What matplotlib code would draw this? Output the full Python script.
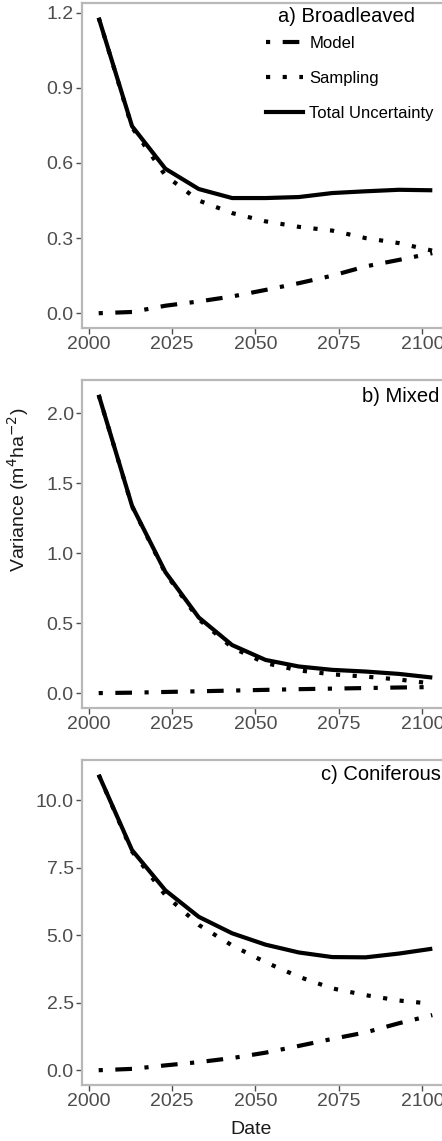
import numpy as np
import matplotlib.pyplot as plt
from matplotlib.lines import Line2D

plt.rcParams['font.family'] = ['Liberation Sans', 'DejaVu Sans']

years = [2003, 2013, 2023, 2033, 2043, 2053, 2063, 2073, 2083, 2093, 2103]

# a) Broadleaved
broad_total = [1.18, 0.747, 0.577, 0.496, 0.46, 0.46, 0.464, 0.48, 0.487, 0.493, 0.491]
broad_model = [0.0, 0.005, 0.03, 0.047, 0.067, 0.093, 0.12, 0.15, 0.187, 0.213, 0.24]
broad_sampling = [1.18, 0.742, 0.55, 0.45, 0.40, 0.367, 0.345, 0.33, 0.30, 0.28, 0.25]

# b) Mixed
mixed_total = [2.13, 1.337, 0.864, 0.54, 0.343, 0.237, 0.19, 0.166, 0.154, 0.137, 0.111]
mixed_model = [0.0, 0.003, 0.008, 0.013, 0.018, 0.023, 0.028, 0.032, 0.036, 0.04, 0.043]
mixed_sampling = [2.13, 1.334, 0.856, 0.527, 0.325, 0.214, 0.162, 0.134, 0.118, 0.097, 0.068]

# c) Coniferous
conif_total = [10.94, 8.15, 6.66, 5.68, 5.07, 4.65, 4.36, 4.19, 4.18, 4.32, 4.5]
conif_model = [0.0, 0.05, 0.18, 0.3, 0.45, 0.65, 0.9, 1.16, 1.4, 1.74, 2.04]
conif_sampling = [10.94, 8.1, 6.48, 5.38, 4.62, 4.0, 3.46, 3.03, 2.78, 2.58, 2.46]

panels = [
    ("a) Broadleaved", broad_total, broad_model, broad_sampling, [0.0, 0.3, 0.6, 0.9, 1.2]),
    ("b) Mixed", mixed_total, mixed_model, mixed_sampling, [0.0, 0.5, 1.0, 1.5, 2.0]),
    ("c) Coniferous", conif_total, conif_model, conif_sampling, [0.0, 2.5, 5.0, 7.5, 10.0]),
]
xticks = [2000, 2025, 2050, 2075, 2100]

fig = plt.figure(figsize=(4.42, 11.41), dpi=100)
W, H = 442, 1141
boxes = [(3, 328), (380, 708), (760, 1085)]
left_px, right_px = 82, 449

lw = 3.0
grey_border = '#b8b8b8'
tick_col = '#4d4d4d'

axes = []
for (title, tot, mod, samp, yt), (top, bot) in zip(panels, boxes):
    ax = fig.add_axes([left_px / W, 1 - bot / H, (right_px - left_px) / W, (bot - top) / H])
    ax.plot(years, mod, color='black', lw=lw, dashes=(1, 3, 4, 3), dash_capstyle='butt')
    ax.plot(years, samp, color='black', lw=lw, dashes=(1, 3), dash_capstyle='butt')
    ax.plot(years, tot, color='black', lw=lw, solid_capstyle='butt')
    ymax = max(tot)
    ax.set_ylim(-0.05 * ymax, ymax * 1.05)
    ax.set_xlim(1998, 2108)
    ax.set_xticks(xticks)
    ax.set_xticklabels([str(t) for t in xticks])
    ax.set_yticks(yt)
    ax.set_yticklabels(["{:.1f}".format(v) for v in yt])
    ax.tick_params(labelsize=14, colors=tick_col, length=4, width=1.0, pad=2)
    for s in ax.spines.values():
        s.set_color(grey_border)
        s.set_linewidth(1.6)
    axes.append(ax)

# panel titles
fig.text(347 / W, 1 - 17 / H, "a) Broadleaved", ha='center', va='center',
         fontsize=14.5, color='black')
fig.text(439 / W, 1 - 396 / H, "b) Mixed", ha='right', va='center',
         fontsize=14.5, color='black')
fig.text(441 / W, 1 - 775 / H, "c) Coniferous", ha='right', va='center',
         fontsize=14.5, color='black')

handles = [
    Line2D([], [], color='black', lw=lw, dashes=(1, 3, 4, 3)),
    Line2D([], [], color='black', lw=lw, dashes=(1, 3)),
    Line2D([], [], color='black', lw=lw),
]
fig.legend(handles, ["Model", "Sampling", "Total Uncertainty"],
           loc='upper left', bbox_to_anchor=(266 / W, 1 - 36 / H),
           frameon=False, fontsize=12, handlelength=2.2, handletextpad=0.4,
           labelspacing=1.2, borderaxespad=0, borderpad=0)

fig.text(18 / W, 1 - 490 / H, "Variance (m$^{4}$ha$^{-2}$)", rotation=90,
         ha='center', va='center', fontsize=14, color='#1a1a1a')
fig.text(251 / W, 1 - 1130 / H, "Date", ha='center', va='center',
         fontsize=14, color='#1a1a1a')

fig.savefig('out.png', dpi=100)
